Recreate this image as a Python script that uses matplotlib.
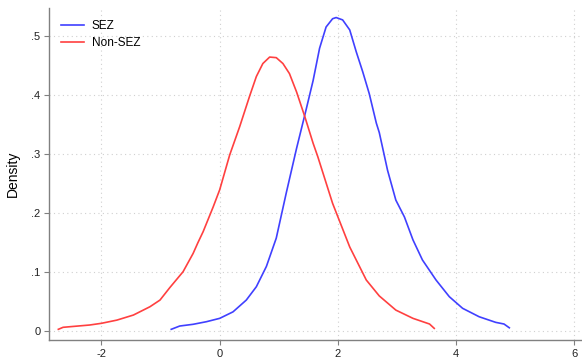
import numpy as np
import matplotlib.pyplot as plt

plt.rcParams['font.family'] = ['Liberation Sans', 'DejaVu Sans']

# Kernel density curves
sez_x = [-0.82, -0.676, -0.45, -0.225, 0.0, 0.225, 0.45, 0.62, 0.79, 0.957,
         1.127, 1.30, 1.46, 1.58, 1.69, 1.80, 1.91, 1.97, 2.08, 2.20,
         2.31, 2.42, 2.53, 2.65, 2.70, 2.84, 2.98, 3.125, 3.27, 3.43,
         3.66, 3.885, 4.11, 4.39, 4.67, 4.81, 4.90]
sez_y = [0.0034, 0.009, 0.0119, 0.0163, 0.022, 0.033, 0.053, 0.0756, 0.11, 0.158,
         0.235, 0.31, 0.375, 0.425, 0.480, 0.516, 0.530, 0.532, 0.528, 0.511,
         0.474, 0.440, 0.403, 0.353, 0.337, 0.273, 0.2225, 0.194, 0.155, 0.121,
         0.087, 0.0587, 0.039, 0.0247, 0.0152, 0.0124, 0.006]

non_x = [-2.73, -2.65, -2.20, -2.0, -1.74, -1.46, -1.18, -1.01, -0.845, -0.62,
         -0.45, -0.37, -0.28, -0.11, 0.0, 0.169, 0.338, 0.507, 0.62, 0.73,
         0.845, 0.957, 1.07, 1.18, 1.30, 1.44, 1.58, 1.66, 1.91, 2.20,
         2.48, 2.70, 2.98, 3.27, 3.55, 3.63]
non_y = [0.0034, 0.0068, 0.0107, 0.0136, 0.019, 0.0276, 0.0417, 0.053, 0.074, 0.101,
         0.132, 0.150, 0.169, 0.211, 0.240, 0.299, 0.347, 0.399, 0.432, 0.454,
         0.465, 0.464, 0.454, 0.437, 0.406, 0.364, 0.319, 0.296, 0.217, 0.143,
         0.087, 0.060, 0.036, 0.022, 0.0124, 0.005]

xticks = [-2, 0, 2, 4, 6]
xtick_labels = ['-2', '0', '2', '4', '6']
yticks = [0, 0.1, 0.2, 0.3, 0.4, 0.5]
ytick_labels = ['0', '.1', '.2', '.3', '.4', '.5']

fig = plt.figure(figsize=(5.82, 3.62), dpi=100)
ax = fig.add_axes([0.085, 0.0616, 0.913, 0.916])

ax.plot(sez_x, sez_y, color='#4040ff', lw=1.2, label='SEZ')
ax.plot(non_x, non_y, color='#ff4040', lw=1.2, label='Non-SEZ')

ax.set_xlim(-2.88, 6.11)
ax.set_ylim(-0.0142, 0.548)
ax.set_xticks(xticks)
ax.set_xticklabels(xtick_labels)
ax.set_yticks(yticks)
ax.set_yticklabels(ytick_labels)
ax.grid(True, color='#d0d0d0', linestyle=(0, (1, 3)), linewidth=0.8)
ax.set_axisbelow(True)

for s in ['top', 'right']:
    ax.spines[s].set_visible(False)
for s in ['left', 'bottom']:
    ax.spines[s].set_color('#808080')
    ax.spines[s].set_linewidth(1.0)
ax.tick_params(length=3.5, width=0.8, color='#808080', labelsize=8,
               labelcolor='#222222', pad=3)
ax.set_ylabel('Density', fontsize=10, labelpad=8)

ax.legend(loc='upper left', bbox_to_anchor=(0.0, 1.0), frameon=False,
          fontsize=8.5, handlelength=1.9, handletextpad=0.7, labelspacing=0.45,
          borderaxespad=0.6)

fig.savefig('out.png', dpi=100)
